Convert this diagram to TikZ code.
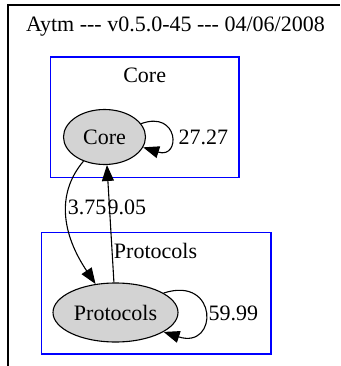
\documentclass[tikz,border=0pt]{standalone}
\usepackage{fontspec}
\setmainfont{Liberation Serif}
\usetikzlibrary{arrows.meta,shapes.geometric}
\definecolor{nodegray}{RGB}{211,211,211}

\begin{document}
\begin{tikzpicture}[x=1pt, y=-1pt, >={Triangle[length=16pt,width=12pt]}, line width=1.1pt, font=\rmfamily\fontsize{22}{26}\selectfont]
        \tikzset{
            mod/.style     = {draw, ellipse, fill=nodegray, inner sep=0pt},
            cluster/.style = {draw=blue},
            lbl/.style     = {inner sep=0pt, anchor=base},
            edge/.style    = {->}
        }
        \useasboundingbox (0,0) rectangle (340,366);
        \draw (8,366) -- (8,5) -- (340,5);
        \node[lbl] (title) at (175.5,32) {Aytm -{}-{}- v0.5.0-45 -{}-{}- 04/06/2008};

        % clusters
        \draw[cluster] (50.5,57) rectangle (239,177.5);
        \node[lbl] (corelbl) at (144.7,82.3) {Core};
        \draw[cluster] (41.5,232.5) rectangle (271,354);
        \node[lbl] (protlbl) at (155.5,258) {Protocols};

        \node[mod, minimum width=82pt, minimum height=55pt] (core) at (104.5,137) {Core};
        \node[mod, minimum width=125pt, minimum height=59pt] (prot) at (115.5,312.5) {Protocols};

        \draw[edge] (core.20) .. controls +(38,-14) and +(38,12) .. (core.-15);
        \node[lbl, anchor=base west] (w1) at (178,144) {27.27};
        \draw[edge] (core.-131) .. controls +(-28,33) and +(-33,-49) .. (prot.125);
        \draw[edge] (prot.93) -- (core.-85);
        \node[lbl, anchor=base east] (w2) at (107,214) {3.75};
        \node[lbl, anchor=base west] (w3) at (107,214) {9.05};
        \draw[edge] (prot.22) .. controls +(55,-18) and +(55,18) .. (prot.-22);
        \node[lbl, anchor=base west] (w4) at (208,320) {59.99};
    \end{tikzpicture}
\end{document}
